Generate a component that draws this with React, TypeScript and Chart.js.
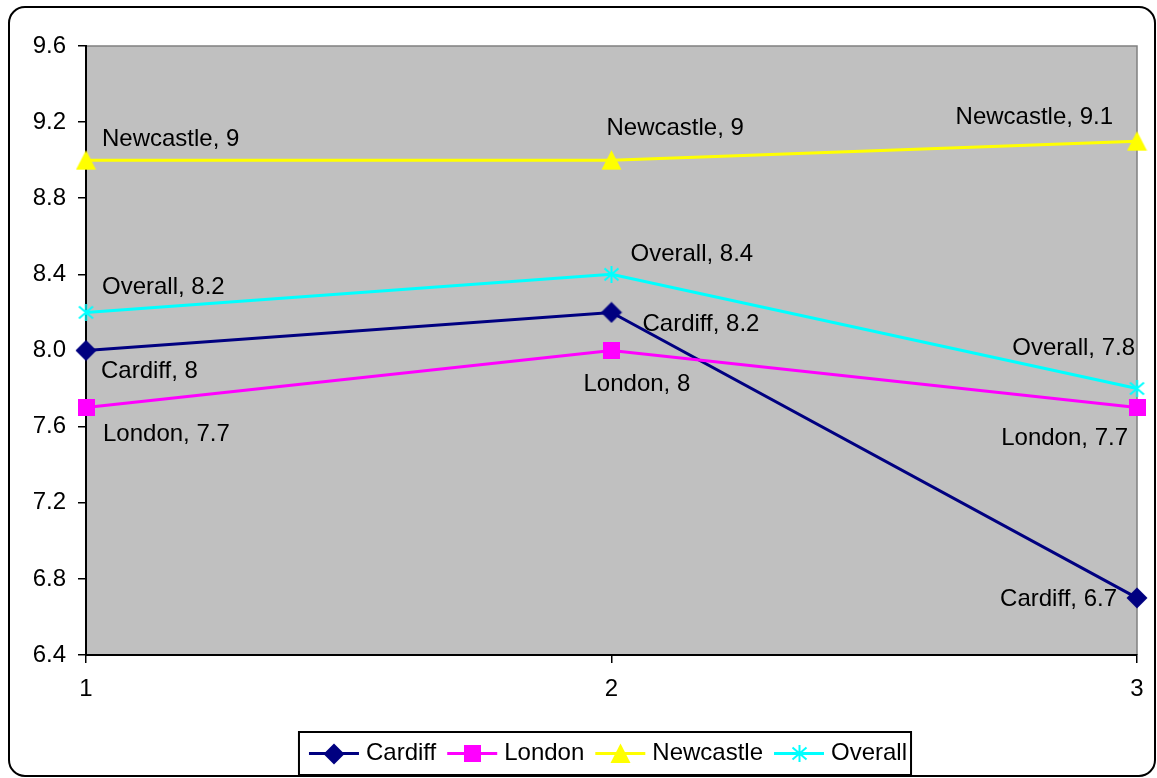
import { useEffect, useRef } from 'react';
import { Chart, registerables } from 'chart.js';

Chart.register(...registerables);

const FONT = '"Liberation Sans", Arial, Helvetica, sans-serif';

// Survey rounds and the score recorded for each location
const categories = ['1', '2', '3'];
const seriesNames = ['Cardiff', 'London', 'Newcastle', 'Overall'];
const cardiff = [8, 8.2, 6.7];
const london = [7.7, 8, 7.7];
const newcastle = [9, 9, 9.1];
const overall = [8.2, 8.4, 7.8];
const yTickValues = [6.4, 6.8, 7.2, 7.6, 8.0, 8.4, 8.8, 9.2, 9.6];
const yTickLabels = ['6.4', '6.8', '7.2', '7.6', '8.0', '8.4', '8.8', '9.2', '9.6'];

const seriesValues = [cardiff, london, newcastle, overall];
const seriesColors = ['#000080', '#FF00FF', '#FFFF00', '#00FFFF'];

// Offsets of each value label from its point: [dx, dy, text alignment]
const labelPlacement: [number, number, CanvasTextAlign][][] = [
  [[15, 21, 'left'], [31, 12, 'left'], [-20, 1, 'right']],
  [[17, 27, 'left'], [-28, 34, 'left'], [-9, 31, 'right']],
  [[16, -21, 'left'], [-5, -32, 'left'], [-24, -24, 'right']],
  [[16, -25, 'left'], [19, -20, 'left'], [-2, -40, 'right']],
];

function makeMarker(kind: string, color: string): HTMLCanvasElement {
  const c = document.createElement('canvas');
  const size = kind === 'diamond' ? 22 : kind === 'square' ? 17 : kind === 'triangle' ? 21 : 17;
  c.width = size;
  c.height = size;
  const g = c.getContext('2d')!;
  g.fillStyle = color;
  g.strokeStyle = color;
  if (kind === 'diamond') {
    g.beginPath();
    g.moveTo(size / 2, 0.5);
    g.lineTo(size - 0.5, size / 2);
    g.lineTo(size / 2, size - 0.5);
    g.lineTo(0.5, size / 2);
    g.closePath();
    g.fill();
  } else if (kind === 'square') {
    g.fillRect(0, 0, size, size);
  } else if (kind === 'triangle') {
    g.beginPath();
    g.moveTo(size / 2, 0.5);
    g.lineTo(size - 0.5, size - 1);
    g.lineTo(0.5, size - 1);
    g.closePath();
    g.fill();
  } else {
    g.lineWidth = 2;
    g.beginPath();
    g.moveTo(size / 2, 0);
    g.lineTo(size / 2, size);
    g.moveTo(1.5, 2.5);
    g.lineTo(size - 1.5, size - 2.5);
    g.moveTo(size - 1.5, 2.5);
    g.lineTo(1.5, size - 2.5);
    g.stroke();
  }
  return c;
}

export default function App() {
  const canvasRef = useRef<HTMLCanvasElement | null>(null);

  useEffect(() => {
    const canvas = canvasRef.current;
    if (!canvas) return;

    const markerKinds = ['diamond', 'square', 'triangle', 'star'];
    const markers = markerKinds.map((k, i) => makeMarker(k, seriesColors[i]));

    const backgroundPlugin = {
      id: 'frameAndPlot',
      beforeDraw(chart: any) {
        const { ctx, chartArea } = chart;
        ctx.save();
        ctx.fillStyle = '#ffffff';
        ctx.fillRect(0, 0, chart.width, chart.height);
        ctx.fillStyle = '#C0C0C0';
        ctx.fillRect(chartArea.left, chartArea.top, chartArea.right - chartArea.left, chartArea.bottom - chartArea.top);
        ctx.strokeStyle = '#808080';
        ctx.lineWidth = 1.5;
        ctx.beginPath();
        ctx.moveTo(chartArea.left, chartArea.top);
        ctx.lineTo(chartArea.right, chartArea.top);
        ctx.lineTo(chartArea.right, chartArea.bottom);
        ctx.stroke();
        // rounded outer frame
        ctx.strokeStyle = '#000000';
        ctx.lineWidth = 2;
        ctx.beginPath();
        ctx.roundRect(9, 7, 1146, 769, 16);
        ctx.stroke();
        ctx.restore();
      },
    };

    const valueLabelPlugin = {
      id: 'valueLabels',
      afterDatasetsDraw(chart: any) {
        const ctx = chart.ctx;
        ctx.save();
        ctx.font = `24px ${FONT}`;
        ctx.fillStyle = '#000000';
        ctx.textBaseline = 'middle';
        chart.data.datasets.forEach((ds: any, di: number) => {
          const meta = chart.getDatasetMeta(di);
          meta.data.forEach((pt: any, i: number) => {
            const [dx, dy, align] = labelPlacement[di][i];
            ctx.textAlign = align;
            ctx.fillText(`${ds.label}, ${ds.data[i]}`, pt.x + dx, pt.y + dy);
          });
        });
        ctx.restore();
      },
    };

    const legendPlugin = {
      id: 'boxedLegend',
      afterDraw(chart: any) {
        const ctx = chart.ctx;
        ctx.save();
        ctx.font = `24px ${FONT}`;
        const lineLen = 50;
        const gapText = 7;
        const gapItem = 11;
        const padL = 10;
        const padR = 4;
        const widths = seriesNames.map((n) => ctx.measureText(n).width);
        const inner = widths.reduce((a, w) => a + lineLen + gapText + w, 0) + gapItem * (seriesNames.length - 1);
        const boxW = inner + padL + padR;
        const left = 605 - boxW / 2;
        const top = 732;
        const h = 43;
        ctx.strokeStyle = '#000000';
        ctx.lineWidth = 2;
        ctx.strokeRect(left, top, boxW, h);
        const cy = top + h / 2;
        let x = left + padL;
        seriesNames.forEach((name, i) => {
          ctx.strokeStyle = seriesColors[i];
          ctx.lineWidth = 3;
          ctx.beginPath();
          ctx.moveTo(x, cy);
          ctx.lineTo(x + lineLen, cy);
          ctx.stroke();
          const m = markers[i];
          ctx.drawImage(m, Math.round(x + lineLen / 2 - m.width / 2), Math.round(cy - m.height / 2));
          x += lineLen + gapText;
          ctx.fillStyle = '#000000';
          ctx.textAlign = 'left';
          ctx.textBaseline = 'middle';
          ctx.fillText(name, x, cy);
          x += widths[i] + gapItem;
        });
        ctx.restore();
      },
    };

    const chart = new Chart(canvas, {
      type: 'line',
      data: {
        labels: categories,
        datasets: seriesNames.map((name, i) => ({
          label: name,
          data: seriesValues[i],
          borderColor: seriesColors[i],
          backgroundColor: seriesColors[i],
          borderWidth: 3,
          pointStyle: markers[i] as any,
          pointRadius: 10,
          tension: 0,
          order: seriesNames.length - i,
        })),
      },
      options: {
        animation: false,
        responsive: false,
        maintainAspectRatio: false,
        layout: { padding: { top: 46, right: 20, bottom: 63, left: 16 } },
        plugins: {
          legend: { display: false },
          tooltip: { enabled: false },
        },
        scales: {
          x: {
            type: 'category',
            offset: false,
            grid: { drawOnChartArea: false, drawTicks: true, tickLength: 8, color: '#000000', lineWidth: 1.5 },
            border: { display: true, color: '#000000', width: 2 },
            ticks: { color: '#000000', font: { family: FONT, size: 24 }, padding: 12, maxRotation: 0 },
            afterFit(scale: any) {
              scale.height = 60;
            },
          },
          y: {
            min: 6.4,
            max: 9.6,
            grid: { drawOnChartArea: false, drawTicks: true, tickLength: 8, color: '#000000', lineWidth: 1.5 },
            border: { display: true, color: '#000000', width: 2 },
            ticks: {
              color: '#000000',
              font: { family: FONT, size: 24 },
              padding: 12,
              callback: (_v: any, idx: number) => yTickLabels[idx],
            },
            afterBuildTicks(scale: any) {
              scale.ticks = yTickValues.map((v) => ({ value: v }));
            },
            afterFit(scale: any) {
              scale.width = 70;
            },
          },
        },
      },
      plugins: [backgroundPlugin, valueLabelPlugin, legendPlugin],
    });

    return () => chart.destroy();
  }, []);

  return (
    <div style={{ position: 'absolute', left: 0, top: 0, width: 1157, height: 778 }}>
      <canvas ref={canvasRef} width={1157} height={778} />
    </div>
  );
}
